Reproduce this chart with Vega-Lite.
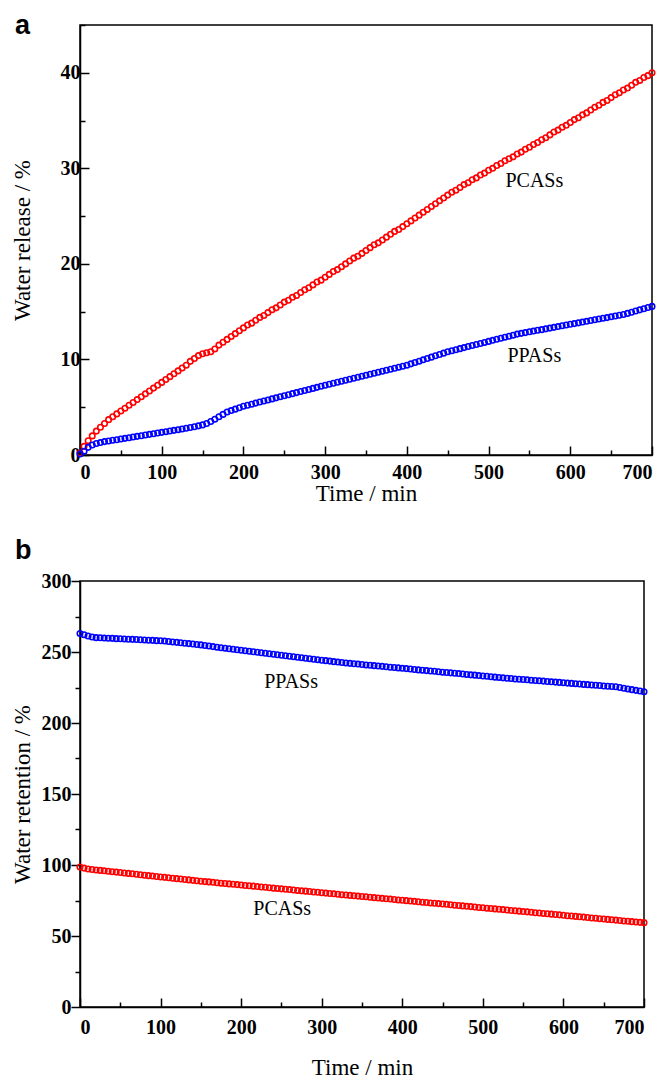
{
"$schema": "https://vega.github.io/schema/vega-lite/v6.json",
"padding": {"left": 10, "top": 11, "right": 12, "bottom": 0},
"spacing": 30,
"config": {
  "font": "Liberation Serif",
  "view": {"stroke": "black", "strokeWidth": 1.5},
  "axis": {"grid": false, "domainColor": "black", "domainWidth": 1.5, "tickColor": "black", "tickWidth": 1.5, "labelColor": "black", "titleColor": "black", "labelFont": "Liberation Serif", "labelFontWeight": "bold", "labelFontSize": 20, "titleFont": "Liberation Serif", "titleFontWeight": "normal", "titleFontSize": 23},
  "title": {"font": "Liberation Sans", "fontWeight": "bold", "fontSize": 27, "color": "black", "anchor": "start", "frame": "group"}
},
"datasets": {
"relPC": [{"t":0,"v":0.2},{"t":5,"v":0.9},{"t":10,"v":1.5},{"t":15,"v":2.0},{"t":20,"v":2.5},{"t":25,"v":2.9},{"t":30,"v":3.3},{"t":35,"v":3.7},{"t":40,"v":4.0},{"t":45,"v":4.3},{"t":50,"v":4.6},{"t":55,"v":4.9},{"t":60,"v":5.2},{"t":65,"v":5.5},{"t":70,"v":5.8},{"t":75,"v":6.1},{"t":80,"v":6.4},{"t":85,"v":6.7},{"t":90,"v":7.0},{"t":95,"v":7.3},{"t":100,"v":7.6},{"t":105,"v":7.9},{"t":110,"v":8.2},{"t":115,"v":8.5},{"t":120,"v":8.8},{"t":125,"v":9.1},{"t":130,"v":9.4},{"t":135,"v":9.8},{"t":140,"v":10.1},{"t":145,"v":10.4},{"t":150,"v":10.6},{"t":155,"v":10.7},{"t":160,"v":10.8},{"t":165,"v":11.1},{"t":170,"v":11.5},{"t":175,"v":11.8},{"t":180,"v":12.1},{"t":185,"v":12.4},{"t":190,"v":12.7},{"t":195,"v":13.0},{"t":200,"v":13.3},{"t":205,"v":13.6},{"t":210,"v":13.8},{"t":215,"v":14.1},{"t":220,"v":14.4},{"t":225,"v":14.6},{"t":230,"v":14.9},{"t":235,"v":15.2},{"t":240,"v":15.4},{"t":245,"v":15.7},{"t":250,"v":16.0},{"t":255,"v":16.2},{"t":260,"v":16.5},{"t":265,"v":16.7},{"t":270,"v":17.0},{"t":275,"v":17.3},{"t":280,"v":17.5},{"t":285,"v":17.8},{"t":290,"v":18.1},{"t":295,"v":18.3},{"t":300,"v":18.6},{"t":305,"v":18.9},{"t":310,"v":19.2},{"t":315,"v":19.4},{"t":320,"v":19.7},{"t":325,"v":20.0},{"t":330,"v":20.3},{"t":335,"v":20.6},{"t":340,"v":20.8},{"t":345,"v":21.1},{"t":350,"v":21.4},{"t":355,"v":21.7},{"t":360,"v":22.0},{"t":365,"v":22.2},{"t":370,"v":22.5},{"t":375,"v":22.8},{"t":380,"v":23.1},{"t":385,"v":23.4},{"t":390,"v":23.6},{"t":395,"v":23.9},{"t":400,"v":24.2},{"t":405,"v":24.5},{"t":410,"v":24.8},{"t":415,"v":25.1},{"t":420,"v":25.4},{"t":425,"v":25.7},{"t":430,"v":26.0},{"t":435,"v":26.3},{"t":440,"v":26.6},{"t":445,"v":26.9},{"t":450,"v":27.2},{"t":455,"v":27.5},{"t":460,"v":27.7},{"t":465,"v":28.0},{"t":470,"v":28.3},{"t":475,"v":28.5},{"t":480,"v":28.8},{"t":485,"v":29.0},{"t":490,"v":29.3},{"t":495,"v":29.5},{"t":500,"v":29.8},{"t":505,"v":30.0},{"t":510,"v":30.3},{"t":515,"v":30.5},{"t":520,"v":30.8},{"t":525,"v":31.0},{"t":530,"v":31.2},{"t":535,"v":31.5},{"t":540,"v":31.7},{"t":545,"v":32.0},{"t":550,"v":32.2},{"t":555,"v":32.5},{"t":560,"v":32.7},{"t":565,"v":33.0},{"t":570,"v":33.2},{"t":575,"v":33.5},{"t":580,"v":33.8},{"t":585,"v":34.0},{"t":590,"v":34.3},{"t":595,"v":34.5},{"t":600,"v":34.8},{"t":605,"v":35.1},{"t":610,"v":35.3},{"t":615,"v":35.6},{"t":620,"v":35.8},{"t":625,"v":36.1},{"t":630,"v":36.4},{"t":635,"v":36.6},{"t":640,"v":36.9},{"t":645,"v":37.1},{"t":650,"v":37.4},{"t":655,"v":37.7},{"t":660,"v":37.9},{"t":665,"v":38.2},{"t":670,"v":38.4},{"t":675,"v":38.7},{"t":680,"v":39.0},{"t":685,"v":39.2},{"t":690,"v":39.5},{"t":695,"v":39.7},{"t":700,"v":40.0}],
"relPP": [{"t":0,"v":0.1},{"t":5,"v":0.4},{"t":10,"v":0.8},{"t":15,"v":1.05},{"t":20,"v":1.2},{"t":25,"v":1.3},{"t":30,"v":1.4},{"t":35,"v":1.47},{"t":40,"v":1.54},{"t":45,"v":1.6},{"t":50,"v":1.67},{"t":55,"v":1.74},{"t":60,"v":1.81},{"t":65,"v":1.88},{"t":70,"v":1.95},{"t":75,"v":2.02},{"t":80,"v":2.09},{"t":85,"v":2.16},{"t":90,"v":2.23},{"t":95,"v":2.3},{"t":100,"v":2.37},{"t":105,"v":2.44},{"t":110,"v":2.51},{"t":115,"v":2.58},{"t":120,"v":2.65},{"t":125,"v":2.72},{"t":130,"v":2.8},{"t":135,"v":2.88},{"t":140,"v":2.96},{"t":145,"v":3.05},{"t":150,"v":3.15},{"t":155,"v":3.3},{"t":160,"v":3.5},{"t":165,"v":3.75},{"t":170,"v":4.0},{"t":175,"v":4.25},{"t":180,"v":4.5},{"t":185,"v":4.65},{"t":190,"v":4.8},{"t":195,"v":4.95},{"t":200,"v":5.1},{"t":205,"v":5.21},{"t":210,"v":5.32},{"t":215,"v":5.43},{"t":220,"v":5.54},{"t":225,"v":5.65},{"t":230,"v":5.76},{"t":235,"v":5.87},{"t":240,"v":5.98},{"t":245,"v":6.09},{"t":250,"v":6.2},{"t":255,"v":6.31},{"t":260,"v":6.42},{"t":265,"v":6.53},{"t":270,"v":6.64},{"t":275,"v":6.75},{"t":280,"v":6.86},{"t":285,"v":6.97},{"t":290,"v":7.08},{"t":295,"v":7.19},{"t":300,"v":7.3},{"t":305,"v":7.4},{"t":310,"v":7.51},{"t":315,"v":7.61},{"t":320,"v":7.72},{"t":325,"v":7.82},{"t":330,"v":7.93},{"t":335,"v":8.03},{"t":340,"v":8.14},{"t":345,"v":8.24},{"t":350,"v":8.35},{"t":355,"v":8.45},{"t":360,"v":8.56},{"t":365,"v":8.66},{"t":370,"v":8.77},{"t":375,"v":8.87},{"t":380,"v":8.98},{"t":385,"v":9.08},{"t":390,"v":9.19},{"t":395,"v":9.29},{"t":400,"v":9.4},{"t":405,"v":9.54},{"t":410,"v":9.68},{"t":415,"v":9.82},{"t":420,"v":9.96},{"t":425,"v":10.1},{"t":430,"v":10.24},{"t":435,"v":10.38},{"t":440,"v":10.52},{"t":445,"v":10.66},{"t":450,"v":10.8},{"t":455,"v":10.91},{"t":460,"v":11.02},{"t":465,"v":11.13},{"t":470,"v":11.24},{"t":475,"v":11.35},{"t":480,"v":11.46},{"t":485,"v":11.56},{"t":490,"v":11.67},{"t":495,"v":11.78},{"t":500,"v":11.89},{"t":505,"v":12.0},{"t":510,"v":12.11},{"t":515,"v":12.22},{"t":520,"v":12.33},{"t":525,"v":12.43},{"t":530,"v":12.54},{"t":535,"v":12.65},{"t":540,"v":12.73},{"t":545,"v":12.81},{"t":550,"v":12.89},{"t":555,"v":12.97},{"t":560,"v":13.05},{"t":565,"v":13.12},{"t":570,"v":13.2},{"t":575,"v":13.28},{"t":580,"v":13.36},{"t":585,"v":13.44},{"t":590,"v":13.52},{"t":595,"v":13.6},{"t":600,"v":13.68},{"t":605,"v":13.75},{"t":610,"v":13.83},{"t":615,"v":13.91},{"t":620,"v":13.99},{"t":625,"v":14.07},{"t":630,"v":14.15},{"t":635,"v":14.23},{"t":640,"v":14.31},{"t":645,"v":14.38},{"t":650,"v":14.46},{"t":655,"v":14.54},{"t":660,"v":14.62},{"t":665,"v":14.7},{"t":670,"v":14.82},{"t":675,"v":14.94},{"t":680,"v":15.07},{"t":685,"v":15.19},{"t":690,"v":15.31},{"t":695,"v":15.43},{"t":700,"v":15.55}],
"retPP": [{"t":0,"v":263.0},{"t":5,"v":262.2},{"t":10,"v":261.3},{"t":15,"v":260.6},{"t":20,"v":260.1},{"t":25,"v":260.0},{"t":30,"v":259.8},{"t":35,"v":259.7},{"t":40,"v":259.6},{"t":45,"v":259.4},{"t":50,"v":259.3},{"t":55,"v":259.2},{"t":60,"v":259.0},{"t":65,"v":258.9},{"t":70,"v":258.8},{"t":75,"v":258.6},{"t":80,"v":258.5},{"t":85,"v":258.3},{"t":90,"v":258.2},{"t":95,"v":258.0},{"t":100,"v":257.9},{"t":105,"v":257.7},{"t":110,"v":257.4},{"t":115,"v":257.1},{"t":120,"v":256.8},{"t":125,"v":256.5},{"t":130,"v":256.2},{"t":135,"v":255.9},{"t":140,"v":255.6},{"t":145,"v":255.3},{"t":150,"v":255.0},{"t":155,"v":254.6},{"t":160,"v":254.2},{"t":165,"v":253.8},{"t":170,"v":253.4},{"t":175,"v":253.0},{"t":180,"v":252.7},{"t":185,"v":252.3},{"t":190,"v":251.9},{"t":195,"v":251.6},{"t":200,"v":251.2},{"t":205,"v":250.9},{"t":210,"v":250.5},{"t":215,"v":250.2},{"t":220,"v":249.8},{"t":225,"v":249.5},{"t":230,"v":249.1},{"t":235,"v":248.8},{"t":240,"v":248.4},{"t":245,"v":248.1},{"t":250,"v":247.7},{"t":255,"v":247.4},{"t":260,"v":247.0},{"t":265,"v":246.7},{"t":270,"v":246.3},{"t":275,"v":246.0},{"t":280,"v":245.6},{"t":285,"v":245.3},{"t":290,"v":244.9},{"t":295,"v":244.6},{"t":300,"v":244.2},{"t":305,"v":243.9},{"t":310,"v":243.6},{"t":315,"v":243.2},{"t":320,"v":242.9},{"t":325,"v":242.6},{"t":330,"v":242.3},{"t":335,"v":242.0},{"t":340,"v":241.7},{"t":345,"v":241.5},{"t":350,"v":241.2},{"t":355,"v":240.9},{"t":360,"v":240.7},{"t":365,"v":240.4},{"t":370,"v":240.1},{"t":375,"v":239.9},{"t":380,"v":239.6},{"t":385,"v":239.3},{"t":390,"v":239.1},{"t":395,"v":238.8},{"t":400,"v":238.5},{"t":405,"v":238.3},{"t":410,"v":238.0},{"t":415,"v":237.7},{"t":420,"v":237.4},{"t":425,"v":237.2},{"t":430,"v":236.9},{"t":435,"v":236.6},{"t":440,"v":236.4},{"t":445,"v":236.1},{"t":450,"v":235.8},{"t":455,"v":235.6},{"t":460,"v":235.3},{"t":465,"v":235.0},{"t":470,"v":234.8},{"t":475,"v":234.5},{"t":480,"v":234.2},{"t":485,"v":233.9},{"t":490,"v":233.7},{"t":495,"v":233.4},{"t":500,"v":233.1},{"t":505,"v":232.9},{"t":510,"v":232.6},{"t":515,"v":232.3},{"t":520,"v":232.1},{"t":525,"v":231.8},{"t":530,"v":231.5},{"t":535,"v":231.3},{"t":540,"v":231.0},{"t":545,"v":230.8},{"t":550,"v":230.6},{"t":555,"v":230.4},{"t":560,"v":230.1},{"t":565,"v":229.9},{"t":570,"v":229.7},{"t":575,"v":229.5},{"t":580,"v":229.2},{"t":585,"v":229.0},{"t":590,"v":228.8},{"t":595,"v":228.6},{"t":600,"v":228.4},{"t":605,"v":228.1},{"t":610,"v":227.9},{"t":615,"v":227.7},{"t":620,"v":227.5},{"t":625,"v":227.2},{"t":630,"v":227.0},{"t":635,"v":226.8},{"t":640,"v":226.6},{"t":645,"v":226.4},{"t":650,"v":226.1},{"t":655,"v":225.9},{"t":660,"v":225.7},{"t":665,"v":225.5},{"t":670,"v":225.0},{"t":675,"v":224.5},{"t":680,"v":224.0},{"t":685,"v":223.5},{"t":690,"v":223.0},{"t":695,"v":222.5},{"t":700,"v":222.0}],
"retPC": [{"t":0,"v":98.6},{"t":5,"v":97.8},{"t":10,"v":97.2},{"t":15,"v":96.8},{"t":20,"v":96.5},{"t":25,"v":96.2},{"t":30,"v":95.9},{"t":35,"v":95.6},{"t":40,"v":95.3},{"t":45,"v":95.0},{"t":50,"v":94.7},{"t":55,"v":94.4},{"t":60,"v":94.1},{"t":65,"v":93.8},{"t":70,"v":93.5},{"t":75,"v":93.1},{"t":80,"v":92.8},{"t":85,"v":92.5},{"t":90,"v":92.2},{"t":95,"v":91.9},{"t":100,"v":91.6},{"t":105,"v":91.3},{"t":110,"v":91.0},{"t":115,"v":90.7},{"t":120,"v":90.4},{"t":125,"v":90.1},{"t":130,"v":89.8},{"t":135,"v":89.5},{"t":140,"v":89.2},{"t":145,"v":88.9},{"t":150,"v":88.6},{"t":155,"v":88.3},{"t":160,"v":88.1},{"t":165,"v":87.8},{"t":170,"v":87.5},{"t":175,"v":87.2},{"t":180,"v":87.0},{"t":185,"v":86.7},{"t":190,"v":86.4},{"t":195,"v":86.2},{"t":200,"v":85.9},{"t":205,"v":85.6},{"t":210,"v":85.4},{"t":215,"v":85.1},{"t":220,"v":84.8},{"t":225,"v":84.5},{"t":230,"v":84.3},{"t":235,"v":84.0},{"t":240,"v":83.7},{"t":245,"v":83.5},{"t":250,"v":83.2},{"t":255,"v":82.9},{"t":260,"v":82.7},{"t":265,"v":82.4},{"t":270,"v":82.1},{"t":275,"v":81.8},{"t":280,"v":81.6},{"t":285,"v":81.3},{"t":290,"v":81.0},{"t":295,"v":80.8},{"t":300,"v":80.5},{"t":305,"v":80.2},{"t":310,"v":79.9},{"t":315,"v":79.7},{"t":320,"v":79.4},{"t":325,"v":79.1},{"t":330,"v":78.9},{"t":335,"v":78.6},{"t":340,"v":78.3},{"t":345,"v":78.1},{"t":350,"v":77.8},{"t":355,"v":77.6},{"t":360,"v":77.3},{"t":365,"v":77.0},{"t":370,"v":76.8},{"t":375,"v":76.5},{"t":380,"v":76.2},{"t":385,"v":76.0},{"t":390,"v":75.7},{"t":395,"v":75.4},{"t":400,"v":75.2},{"t":405,"v":74.9},{"t":410,"v":74.6},{"t":415,"v":74.4},{"t":420,"v":74.1},{"t":425,"v":73.8},{"t":430,"v":73.6},{"t":435,"v":73.3},{"t":440,"v":73.1},{"t":445,"v":72.8},{"t":450,"v":72.5},{"t":455,"v":72.3},{"t":460,"v":72.0},{"t":465,"v":71.7},{"t":470,"v":71.5},{"t":475,"v":71.2},{"t":480,"v":70.9},{"t":485,"v":70.7},{"t":490,"v":70.4},{"t":495,"v":70.1},{"t":500,"v":69.9},{"t":505,"v":69.6},{"t":510,"v":69.4},{"t":515,"v":69.1},{"t":520,"v":68.8},{"t":525,"v":68.6},{"t":530,"v":68.3},{"t":535,"v":68.0},{"t":540,"v":67.8},{"t":545,"v":67.5},{"t":550,"v":67.2},{"t":555,"v":67.0},{"t":560,"v":66.7},{"t":565,"v":66.4},{"t":570,"v":66.2},{"t":575,"v":65.9},{"t":580,"v":65.7},{"t":585,"v":65.4},{"t":590,"v":65.1},{"t":595,"v":64.9},{"t":600,"v":64.6},{"t":605,"v":64.3},{"t":610,"v":64.1},{"t":615,"v":63.8},{"t":620,"v":63.5},{"t":625,"v":63.3},{"t":630,"v":63.0},{"t":635,"v":62.7},{"t":640,"v":62.5},{"t":645,"v":62.2},{"t":650,"v":62.0},{"t":655,"v":61.7},{"t":660,"v":61.4},{"t":665,"v":61.2},{"t":670,"v":60.9},{"t":675,"v":60.6},{"t":680,"v":60.4},{"t":685,"v":60.1},{"t":690,"v":59.9},{"t":695,"v":59.6},{"t":700,"v":59.4}],
"labA": [{"t":556,"v":28.7,"label":"PCASs"},{"t":556,"v":10.4,"label":"PPASs"}],
"labB": [{"t":262,"v":229,"label":"PPASs"},{"t":251,"v":69,"label":"PCASs"}]
},
"vconcat": [
 {
  "width": 572, "height": 430,
  "title": {"text": "a", "dx": -65, "offset": -16},
  "encoding": {
    "x": {"field": "t", "type": "quantitative", "scale": {"domain": [0, 700], "nice": false},
      "axis": {"title": "Time / min", "values": [0,50,100,150,200,250,300,350,400,450,500,550,600,650,700],
        "labelExpr": "datum.value % 100 === 0 ? datum.label : ''",
        "labelFont": "Liberation Serif", "labelFontWeight": "bold",
        "tickSize": {"condition": {"test": "datum.value % 100 === 0", "value": -9}, "value": -5},
        "labelPadding": 16, "titlePadding": 0}},
    "y": {"field": "v", "type": "quantitative", "scale": {"domain": [0, 45], "nice": false},
      "axis": {"title": "Water release / %", "values": [0,5,10,15,20,25,30,35,40,45],
        "labelExpr": "datum.value % 10 === 0 ? datum.label : ''",
        "labelFont": "Liberation Serif", "labelFontWeight": "bold",
        "tickSize": {"condition": {"test": "datum.value % 10 === 0", "value": -9}, "value": -5},
        "labelPadding": 9, "minExtent": 40, "maxExtent": 40, "titlePadding": 6}}
  },
  "layer": [
    {"data": {"name": "relPC"}, "mark": {"type": "point", "shape": "circle", "filled": false, "size": 30, "strokeWidth": 1.6, "color": "#ff0000", "opacity": 1}},
    {"data": {"name": "relPP"}, "mark": {"type": "point", "shape": "circle", "filled": false, "size": 30, "strokeWidth": 1.6, "color": "#0000ff", "opacity": 1}},
    {"data": {"name": "labA"}, "mark": {"type": "text", "font": "Liberation Serif", "fontSize": 20, "color": "black"}, "encoding": {"text": {"field": "label"}}}
  ]
 },
 {
  "width": 564, "height": 426,
  "title": {"text": "b", "dx": -65, "offset": 6},
  "encoding": {
    "x": {"field": "t", "type": "quantitative", "scale": {"domain": [0, 700], "nice": false},
      "axis": {"title": "Time / min", "values": [0,50,100,150,200,250,300,350,400,450,500,550,600,650,700],
        "labelExpr": "datum.value % 100 === 0 ? datum.label : ''",
        "labelFont": "Liberation Serif", "labelFontWeight": "bold",
        "tickSize": {"condition": {"test": "datum.value % 100 === 0", "value": -9}, "value": -5},
        "labelPadding": 19, "titlePadding": 19}},
    "y": {"field": "v", "type": "quantitative", "scale": {"domain": [0, 300], "nice": false},
      "axis": {"title": "Water retention / %", "values": [0,25,50,75,100,125,150,175,200,225,250,275,300],
        "labelExpr": "datum.value % 50 === 0 ? datum.label : ''",
        "labelFont": "Liberation Serif", "labelFontWeight": "bold",
        "tickSize": {"condition": {"test": "datum.value % 50 === 0", "value": 9}, "value": 5},
        "labelPadding": 0, "minExtent": 40, "maxExtent": 40, "titlePadding": 6}}
  },
  "layer": [
    {"data": {"name": "retPP"}, "mark": {"type": "point", "shape": "circle", "filled": false, "size": 30, "strokeWidth": 1.6, "color": "#0000ff", "opacity": 1}},
    {"data": {"name": "retPC"}, "mark": {"type": "point", "shape": "circle", "filled": false, "size": 30, "strokeWidth": 1.6, "color": "#ff0000", "opacity": 1}},
    {"data": {"name": "labB"}, "mark": {"type": "text", "font": "Liberation Serif", "fontSize": 20, "color": "black"}, "encoding": {"text": {"field": "label"}}}
  ]
 }
]
}
